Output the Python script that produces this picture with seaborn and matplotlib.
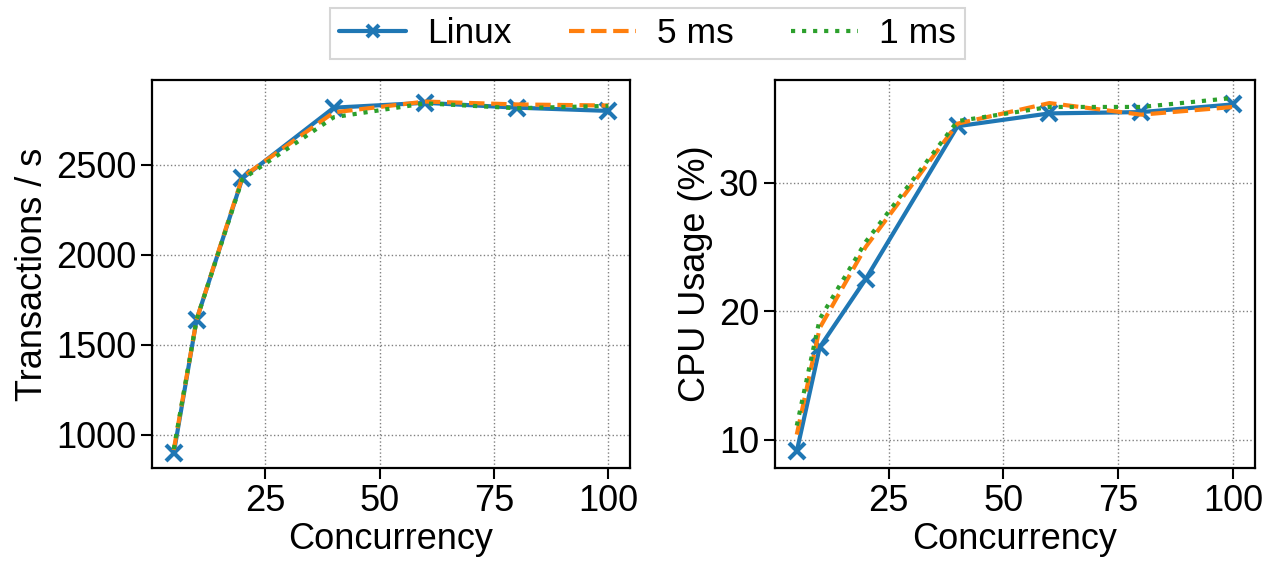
import matplotlib
matplotlib.use("Agg")
import matplotlib.pyplot as plt
import seaborn as sns
import pandas as pd

concurrency = [5, 10, 20, 40, 60, 80, 100]
series_names = ["Linux", "5 ms", "1 ms"]

tps_linux = [897, 1640, 2425, 2818, 2845, 2818, 2800]
tps_5ms = [915, 1640, 2432, 2792, 2852, 2836, 2830]
tps_1ms = [920, 1640, 2420, 2765, 2842, 2815, 2828]

cpu_linux = [9.1, 17.2, 22.5, 34.4, 35.4, 35.5, 36.1]
cpu_5ms = [10.4, 18.7, 25.0, 34.6, 36.2, 35.3, 35.9]
cpu_1ms = [11.1, 19.4, 25.4, 34.8, 35.9, 35.9, 36.6]

sns.set_theme(style="ticks")
plt.rcParams["font.family"] = ["Liberation Sans", "DejaVu Sans"]
plt.rcParams["font.size"] = 26
for k in ["text.color", "axes.labelcolor", "xtick.color", "ytick.color", "axes.edgecolor"]:
    plt.rcParams[k] = "black"

colors = ["#1f77b4", "#ff7f0e", "#2ca02c"]
styles = ["-", "--", ":"]
markers = ["x", "None", "None"]

fig = plt.figure(figsize=(12.7, 5.7), dpi=100)
ax1 = fig.add_axes([0.1197, 0.179, 0.3764, 0.6807])
ax2 = fig.add_axes([0.6102, 0.179, 0.378, 0.6807])


def draw(ax, data_list, ylabel):
    for name, vals, c, ls, mk in zip(series_names, data_list, colors, styles, markers):
        df = pd.DataFrame({"x": concurrency, "y": vals})
        sns.lineplot(data=df, x="x", y="y", ax=ax, color=c, linewidth=3,
                     label=name, legend=False)
        ln = ax.lines[-1]
        ln.set_linestyle(ls)
        ln.set_marker(mk)
        ln.set_markersize(11)
        ln.set_markeredgewidth(3)
        ln.set_markeredgecolor(c)
    ax.set_xlabel("Concurrency", fontsize=26, labelpad=2)
    ax.set_ylabel(ylabel, fontsize=26)
    ax.grid(True, linestyle=":", color="gray", linewidth=1)
    ax.tick_params(axis="both", labelsize=26, length=8, width=1.5, colors="black", direction="out")
    for s in ax.spines.values():
        s.set_linewidth(1.6)
        s.set_color("black")
    ax.set_xticks([25, 50, 75, 100])
    ax.margins(x=0.05, y=0.05)


draw(ax1, [tps_linux, tps_5ms, tps_1ms], "Transactions / s")
ax1.set_yticks([1000, 1500, 2000, 2500])
ax1.set_ylim(815, 2972)
draw(ax2, [cpu_linux, cpu_5ms, cpu_1ms], "CPU Usage (%)")
ax2.set_yticks([10, 20, 30])
ax2.set_ylim(7.8, 38.0)

handles = ax1.lines[:3]
leg = fig.legend(handles, series_names, loc="center", bbox_to_anchor=(0.5098, 0.9412), ncol=3,
                 fontsize=25.5, frameon=True, fancybox=False, edgecolor="#cccccc",
                 handlelength=1.9, handletextpad=0.6, columnspacing=1.6,
                 borderpad=0.25, markerscale=0.85)
leg.get_frame().set_linewidth(1.5)

fig.savefig("out.png", dpi=100)
